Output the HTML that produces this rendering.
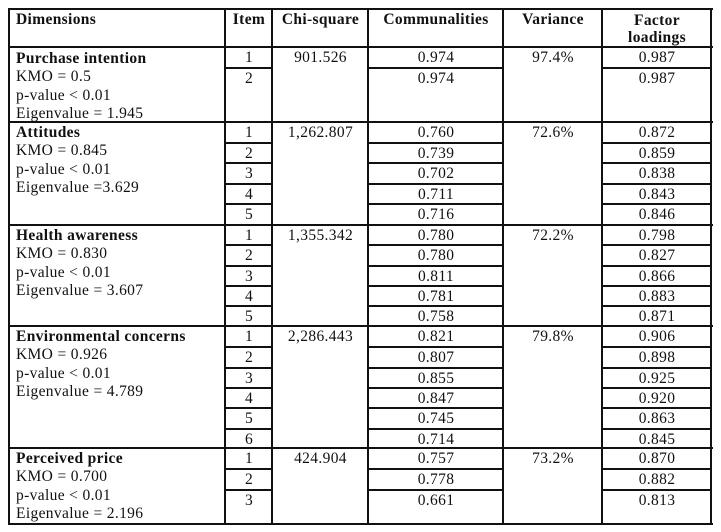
<!DOCTYPE html>
<html><head><meta charset="utf-8"><style>
body{margin:0;background:#fff;}
#w{position:relative;width:721px;height:532px;overflow:hidden;background:#fff;font-family:"Liberation Serif",serif;font-size:15.5px;letter-spacing:0.35px;color:#111;}
.h,.v{position:absolute;background:#111;}
.h{height:2px;}
.v{width:2px;top:8px;height:517px;}
.c{position:absolute;text-align:center;line-height:18px;white-space:nowrap;}
.l{position:absolute;left:16px;line-height:18.3px;white-space:nowrap;}
b{font-weight:bold;}
.i{left:226px;width:46px}.x{left:273px;width:95px}.m{left:369px;width:134px}.r{left:504px;width:98px}.f{left:603px;width:108px}
</style></head><body><div id="w">
<div class="h" style="left:8px;width:705px;top:8px"></div>
<div class="h" style="left:8px;width:705px;top:46px"></div>
<div class="h" style="left:8px;width:705px;top:121px"></div>
<div class="h" style="left:8px;width:705px;top:224px"></div>
<div class="h" style="left:8px;width:705px;top:325px"></div>
<div class="h" style="left:8px;width:705px;top:447px"></div>
<div class="h" style="left:8px;width:705px;top:523px"></div>
<div class="v" style="left:8px"></div><div class="v" style="left:224px"></div><div class="v" style="left:271px"></div><div class="v" style="left:367px"></div><div class="v" style="left:502px"></div><div class="v" style="left:601px"></div><div class="v" style="left:710px"></div>
<svg style="position:absolute;left:0;top:0" width="721" height="532">
<g stroke="#111" stroke-width="2">
<path d="M225 68H272M368 68H503M602 68H711
M225 143H272M368 143H503M602 143H711M225 163H272M368 163H503M602 163H711M225 184H272M368 184H503M602 184H711M225 204H272M368 204H503M602 204H711
M225 245H272M368 245H503M602 245H711M225 266H272M368 266H503M602 266H711M225 286H272M368 286H503M602 286H711M225 306H272M368 306H503M602 306H711
M225 347H272M368 347H503M602 347H711M225 368H272M368 368H503M602 368H711M225 388H272M368 388H503M602 388H711M225 408H272M368 408H503M602 408H711M225 429H272M368 429H503M602 429H711
M225 469H272M368 469H503M602 469H711M225 490H272M368 490H503M602 490H711"/>
</g></svg>
<div class="l" style="top:11px"><b>Dimensions</b></div>
<div class="c i" style="top:11px"><b>Item</b></div>
<div class="c x" style="top:11px"><b>Chi-square</b></div>
<div class="c m" style="top:11px"><b>Communalities</b></div>
<div class="c r" style="top:11px"><b>Variance</b></div>
<div class="c f" style="top:12px;line-height:17px"><b>Factor<br>loadings</b></div>

<div class="l" style="top:50px"><b>Purchase intention</b><br>KMO = 0.5<br>p-value &lt; 0.01<br>Eigenvalue = 1.945</div>
<div class="c i" style="top:49px">1</div><div class="c i" style="top:70px">2</div>
<div class="c x" style="top:49px">901.526</div>
<div class="c m" style="top:49px">0.974</div><div class="c m" style="top:70px">0.974</div>
<div class="c r" style="top:49px">97.4%</div>
<div class="c f" style="top:49px">0.987</div><div class="c f" style="top:70px">0.987</div>

<div class="l" style="top:124px"><b>Attitudes</b><br>KMO = 0.845<br>p-value &lt; 0.01<br>Eigenvalue =3.629</div>
<div class="c i" style="top:124px">1</div><div class="c i" style="top:145px">2</div><div class="c i" style="top:165px">3</div><div class="c i" style="top:186px">4</div><div class="c i" style="top:206px">5</div>
<div class="c x" style="top:124px">1,262.807</div>
<div class="c m" style="top:124px">0.760</div><div class="c m" style="top:145px">0.739</div><div class="c m" style="top:165px">0.702</div><div class="c m" style="top:186px">0.711</div><div class="c m" style="top:206px">0.716</div>
<div class="c r" style="top:124px">72.6%</div>
<div class="c f" style="top:124px">0.872</div><div class="c f" style="top:145px">0.859</div><div class="c f" style="top:165px">0.838</div><div class="c f" style="top:186px">0.843</div><div class="c f" style="top:206px">0.846</div>

<div class="l" style="top:227px"><b>Health awareness</b><br>KMO = 0.830<br>p-value &lt; 0.01<br>Eigenvalue = 3.607</div>
<div class="c i" style="top:227px">1</div><div class="c i" style="top:247px">2</div><div class="c i" style="top:268px">3</div><div class="c i" style="top:288px">4</div><div class="c i" style="top:308px">5</div>
<div class="c x" style="top:227px">1,355.342</div>
<div class="c m" style="top:227px">0.780</div><div class="c m" style="top:247px">0.780</div><div class="c m" style="top:268px">0.811</div><div class="c m" style="top:288px">0.781</div><div class="c m" style="top:308px">0.758</div>
<div class="c r" style="top:227px">72.2%</div>
<div class="c f" style="top:227px">0.798</div><div class="c f" style="top:247px">0.827</div><div class="c f" style="top:268px">0.866</div><div class="c f" style="top:288px">0.883</div><div class="c f" style="top:308px">0.871</div>

<div class="l" style="top:328px"><b>Environmental concerns</b><br>KMO = 0.926<br>p-value &lt; 0.01<br>Eigenvalue = 4.789</div>
<div class="c i" style="top:328px">1</div><div class="c i" style="top:349px">2</div><div class="c i" style="top:370px">3</div><div class="c i" style="top:390px">4</div><div class="c i" style="top:410px">5</div><div class="c i" style="top:431px">6</div>
<div class="c x" style="top:328px">2,286.443</div>
<div class="c m" style="top:328px">0.821</div><div class="c m" style="top:349px">0.807</div><div class="c m" style="top:370px">0.855</div><div class="c m" style="top:390px">0.847</div><div class="c m" style="top:410px">0.745</div><div class="c m" style="top:431px">0.714</div>
<div class="c r" style="top:328px">79.8%</div>
<div class="c f" style="top:328px">0.906</div><div class="c f" style="top:349px">0.898</div><div class="c f" style="top:370px">0.925</div><div class="c f" style="top:390px">0.920</div><div class="c f" style="top:410px">0.863</div><div class="c f" style="top:431px">0.845</div>

<div class="l" style="top:450px"><b>Perceived price</b><br>KMO = 0.700<br>p-value &lt; 0.01<br>Eigenvalue = 2.196</div>
<div class="c i" style="top:450px">1</div><div class="c i" style="top:471px">2</div><div class="c i" style="top:492px">3</div>
<div class="c x" style="top:450px">424.904</div>
<div class="c m" style="top:450px">0.757</div><div class="c m" style="top:471px">0.778</div><div class="c m" style="top:492px">0.661</div>
<div class="c r" style="top:450px">73.2%</div>
<div class="c f" style="top:450px">0.870</div><div class="c f" style="top:471px">0.882</div><div class="c f" style="top:492px">0.813</div>
</div></body></html>
